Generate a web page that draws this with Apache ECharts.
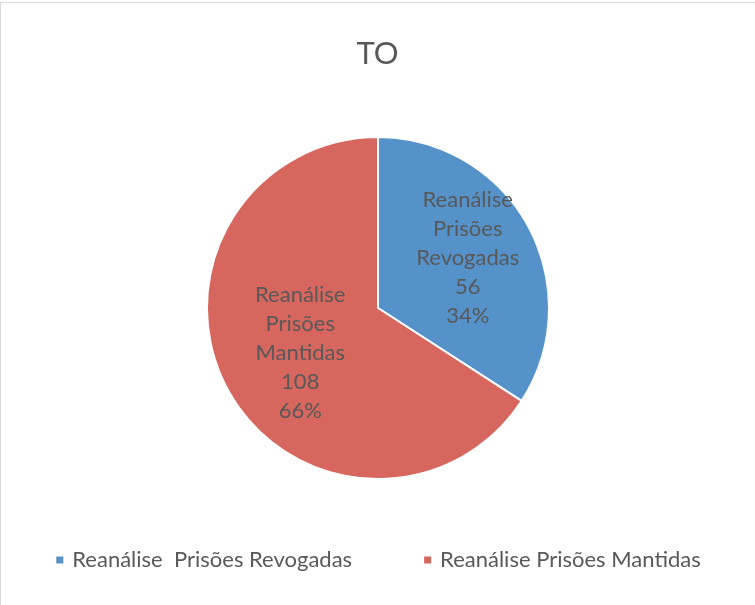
<!DOCTYPE html>
<html>
<head>
<meta charset="utf-8">
<style>
  html, body { margin: 0; padding: 0; background: #fff; }
  #frame { position: absolute; left: 0; top: 2px; width: 755px; height: 603px;
           border-top: 1px solid #d9d9d9; border-left: 1px solid #d9d9d9; box-sizing: border-box; }
  #chart { width: 755px; height: 605px; }
</style>
<script src="https://cdn.jsdelivr.net/npm/echarts@6/dist/echarts.min.js"></script>
</head>
<body>
<div id="frame"></div>
<div id="chart"></div>
<script>
// Reanálise de prisões — TO
const chartTitle = 'TO';
const categories = ['Reanálise  Prisões Revogadas', 'Reanálise Prisões Mantidas'];
const labelNames = ['Reanálise\nPrisões\nRevogadas', 'Reanálise\nPrisões\nMantidas'];
const values = [56, 108];
const colors = ['#5592ca', '#d6665e'];

const total = values.reduce((a, b) => a + b, 0);
const font = 'Lato, "Noto Sans", sans-serif';

const chart = echarts.init(document.getElementById('chart'), null, { renderer: 'canvas' });
chart.setOption({
  animation: false,
  title: {
    text: chartTitle,
    left: 'center',
    top: 33,
    textStyle: { fontFamily: font, fontSize: 31, fontWeight: 'normal', color: '#595959' }
  },
  legend: {
    bottom: 29,
    left: 'center',
    itemGap: 70,
    itemWidth: 9,
    itemHeight: 9,
    icon: 'rect',
    textStyle: { fontFamily: font, fontSize: 22, color: '#595959', padding: [0, 0, 0, 3] },
    data: categories
  },
  series: [{
    type: 'pie',
    center: [378, 308],
    radius: 171,
    startAngle: 90,
    clockwise: true,
    avoidLabelOverlap: false,
    itemStyle: { borderColor: '#fff', borderWidth: 2 },
    label: {
      show: true,
      position: 'inside',
      fontFamily: font,
      fontSize: 22,
      lineHeight: 29,
      color: '#595959',
      formatter: p => labelNames[p.dataIndex] + '\n' + p.value + '\n' + Math.round(p.value / total * 100) + '%'
    },
    labelLine: { show: false },
    emphasis: { disabled: true },
    data: categories.map((name, i) => ({
      name,
      value: values[i],
      itemStyle: { color: colors[i] },
      label: i === 0 ? { offset: [12, -8] } : { offset: [0, 3] }
    }))
  }]
});
</script>
</body>
</html>
